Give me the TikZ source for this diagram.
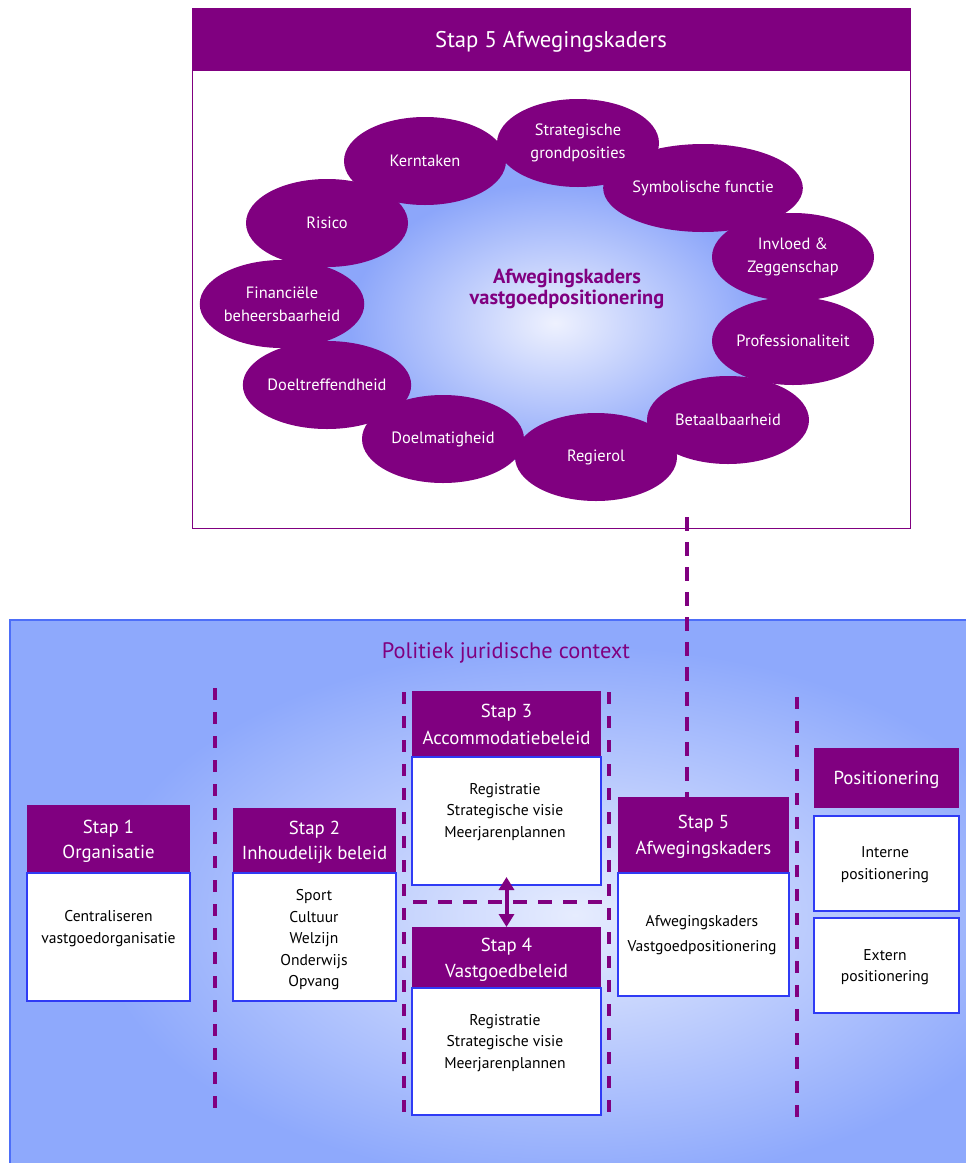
\documentclass[tikz,border=0pt]{standalone}
\usepackage{fontspec}
\setmainfont{PT Sans}
\usetikzlibrary{arrows.meta,calc,shapes.geometric}

\definecolor{plum}{HTML}{800080}
\definecolor{boxblue}{HTML}{2F3BF5}
\definecolor{panelblue}{HTML}{8EA9FC}
\definecolor{panelglow}{HTML}{E6ECFE}
\definecolor{paneledge}{HTML}{4D6EF8}
\definecolor{cloudout}{HTML}{8CA6FA}
\definecolor{cloudin}{HTML}{EEF1FE}

\newcommand\fsz[2]{\fontsize{#1}{#2}\selectfont}

\begin{document}
\begin{tikzpicture}[x=1pt,y=-1pt,
  hdr/.style={fill=plum, text=white, inner sep=0pt, outer sep=0pt, text depth=0pt,
    anchor=north west, align=center, font=\fsz{18.8}{25}},
  bodybox/.style={draw=boxblue, line width=1.2pt, fill=white, inner sep=0pt,
    outer sep=0pt, anchor=north west},
  bodytext/.style={text=black, align=center, inner sep=0pt, font=\fsz{15.6}{21.5}},
  ball/.style={ellipse, fill=plum, text=white, inner sep=0pt,
    minimum width=162pt, minimum height=88pt, align=center, font=\fsz{16.4}{23}},
  sep/.style={draw=plum, line width=3.3pt, dash pattern=on 12pt off 12pt},
  link/.style={draw=plum, line width=3.3pt, dash pattern=on 14pt off 11pt}
]
\useasboundingbox (0,0) rectangle (966,1163);

% ---------- upper frame: step 5 detail ----------
\node[draw=plum, line width=1.2pt, minimum width=718pt, minimum height=520pt,
  inner sep=0pt, anchor=north west] (frame) at (192,8) {};
\node[hdr, minimum width=718pt, minimum height=63pt, font=\fsz{22.7}{26}]
  (frametitle) at (192,8) {Stap 5 Afwegingskaders};

% glowing cloud centre
\fill[cloudout] (425,161) -- (578,143) -- (703,188) -- (793,257) -- (793,341)
  -- (728,420) -- (596,457) -- (443,439) -- (327,385) -- (282,304) -- (327,223) -- cycle;
\shade[inner color=cloudin, outer color=cloudout] (555,323) ellipse (205pt and 140pt);

% ring of criteria
\node[ball] (kern)  at (425,161) {Kerntaken};
\node[ball] (strat) at (578,143) {Strategische\\grondposities};
\node[ball] (symb)  at (703,188) {Symbolische functie};
\node[ball] (invl)  at (793,257) {Invloed \&\\Zeggenschap};
\node[ball] (prof)  at (793,341) {Professionaliteit};
\node[ball] (betl)  at (728,420) {Betaalbaarheid};
\node[ball] (regie) at (596,457) {Regierol};
\node[ball] (dmat)  at (443,439) {Doelmatigheid};
\node[ball] (dtref) at (327,385) {Doeltreffendheid};
\node[ball] (fin)   at (282,304) {Financiële\\beheersbaarheid};
\node[ball] (risk)  at (327,223) {Risico};

\node[text=plum, align=center, font=\bfseries\fsz{20.4}{21}, inner sep=0pt]
  (core) at (567,289) {Afwegingskaders\\vastgoedpositionering};

% ---------- lower panel: context ----------
\fill[panelblue] (10,620) rectangle (970,1170);
\begin{scope}
  \clip (10,620) rectangle (970,1170);
  \shade[inner color=panelglow, outer color=panelblue] (575,915) ellipse (480pt and 270pt);
\end{scope}
\draw[paneledge, line width=1.2pt] (970,620) -- (10,620) -- (10,1170);

\node[text=plum, font=\fsz{22.4}{26}, inner sep=0pt] (context) at (506,653)
  {Politiek juridische context};

% column separators
\draw[sep] (215,688) -- (215,1108);
\draw[sep] (404,692) -- (404,1112);
\draw[sep] (609,692) -- (609,1112);
\draw[sep] (797,697) -- (797,1117);
\draw[link] (413,902) -- (602,902);

% step 1
\node[hdr, minimum width=163pt, minimum height=68pt] (s1h) at (27,805) {Stap 1\\Organisatie};
\node[bodybox, minimum width=163pt, minimum height=128pt] (s1b) at (27,873) {};
\node[bodytext, font=\fsz{15.6}{22}] (s1t) at (108.5,929) {Centraliseren\\vastgoedorganisatie};

% step 2
\node[hdr, minimum width=163pt, minimum height=65pt] (s2h) at (233,808) {Stap 2\\Inhoudelijk beleid};
\node[bodybox, minimum width=163pt, minimum height=128pt] (s2b) at (233,873) {};
\node[bodytext] (s2t) at (314,940) {Sport\\Cultuur\\Welzijn\\Onderwijs\\Opvang};

% step 3
\node[hdr, minimum width=189pt, minimum height=66pt, font=\fsz{18.8}{27}] (s3h) at (412,691) {Stap 3\\Accommodatiebeleid};
\node[bodybox, minimum width=189pt, minimum height=128pt] (s3b) at (412,757) {};
\node[bodytext] (s3t) at (505,812) {Registratie\\Strategische visie\\Meerjarenplannen};

% step 4
\node[hdr, minimum width=189pt, minimum height=61pt, font=\fsz{18.8}{26}] (s4h) at (412,927) {Stap 4\\Vastgoedbeleid};
\node[bodybox, minimum width=189pt, minimum height=127pt] (s4b) at (412,988) {};
\node[bodytext] (s4t) at (505,1043) {Registratie\\Strategische visie\\Meerjarenplannen};

\draw[plum, line width=4pt, {Triangle[length=13pt,width=15pt]}-{Triangle[length=13pt,width=15pt]}]
  ($(s3b.south)+(0,-8)$) -- (s4h.north);

% step 5
\node[hdr, minimum width=171pt, minimum height=76pt, font=\fsz{18.8}{26}] (s5h) at (618,797) {Stap 5\\Afwegingskaders};
\node[bodybox, minimum width=171pt, minimum height=123pt] (s5b) at (618,873) {};
\node[bodytext, font=\fsz{15.6}{25}] (s5t) at (702,935.5) {Afwegingskaders\\Vastgoedpositionering};

% positioning
\node[hdr, minimum width=145pt, minimum height=60pt] (posh) at (814,748) {Positionering};
\node[bodybox, minimum width=145pt, minimum height=95pt] (pos1) at (814,816) {};
\node[bodytext, font=\fsz{15.6}{22}] (pos1t) at (885,865) {Interne\\positionering};
\node[bodybox, minimum width=145pt, minimum height=95pt] (pos2) at (814,918) {};
\node[bodytext, font=\fsz{15.6}{21}] (pos2t) at (885,967.5) {Extern\\positionering};

% link from the detail frame down to step 5
\coordinate (frameport) at (687,517);
\draw[link] (frameport) -- (frameport |- s5h.north);
\end{tikzpicture}
\end{document}
